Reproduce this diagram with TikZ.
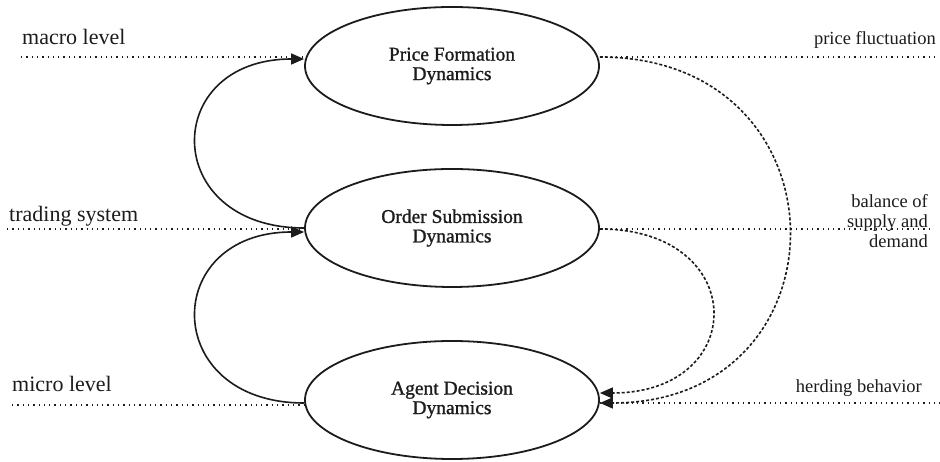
\documentclass[tikz,border=0pt]{standalone}
\usepackage{fontspec}
\setmainfont{Liberation Serif}
\newfontfamily\ellfont{Liberation Serif}[FakeBold=1.1]
\usetikzlibrary{arrows.meta,shapes.geometric}
\definecolor{ink}{HTML}{1C1C1C}
\begin{document}
\begin{tikzpicture}[x=1pt,y=1pt,
 dyn/.style={ellipse, draw=ink, line width=1.8pt, minimum width=294pt, minimum height=118pt, inner sep=0pt, align=center, font=\ellfont\fontsize{19.5}{19.5}\selectfont, text=ink},
 lvl/.style={draw=ink, line width=1.5pt, dash pattern=on 1.3pt off 4pt},
 feed/.style={draw=ink, line width=1.6pt, -{Triangle[length=13pt,width=11pt]}},
 fb/.style={feed, dash pattern=on 3pt off 2pt},
 lbl/.style={font=\fontsize{22}{24}\selectfont, text=ink, inner sep=0pt, anchor=base west},
 rlbl/.style={font=\fontsize{18.5}{20}\selectfont, text=ink, inner sep=0pt, align=right},
]
\useasboundingbox (0,0) rectangle (940,462);
\fill[white] (0,0) rectangle (940,462);

\node[dyn] (top) at (452,396) {Price Formation\\Dynamics};
\node[dyn] (mid) at (452,234) {Order Submission\\Dynamics};
\node[dyn] (bot) at (452,62) {Agent Decision\\Dynamics};

% level lines
\coordinate (mL) at (21,405);
\coordinate (mR) at (938,405);
\coordinate (tL) at (7,233);
\coordinate (tR) at (933,233);
\coordinate (uL) at (12,57);
\coordinate (uR) at (940,59);
\draw[lvl] (mL) -- (mL -| top.west);
\draw[lvl] (mR -| top.east) -- (mR);
\draw[lvl] (tL) -- (tL -| mid.west);
\draw[lvl] (tR -| mid.east) -- (tR);
\draw[lvl] (uL) -- (uL -| bot.west);
\draw[lvl] (uR -| bot.east) -- (uR);

% labels
\node[lbl] (lmacro) at (22,417) {macro level};
\node[lbl] (ltrade) at (9,240) {trading system};
\node[lbl] (lmicro) at (12,70) {micro level};
\node[rlbl, anchor=base east] (lprice) at (936,417) {price fluctuation};
\node[rlbl, anchor=east] (lbal) at (928,241) {balance of\\supply and\\demand};
\node[rlbl, anchor=base east] (lherd) at (922,69) {herding behavior};

% feedback loops
\draw[feed] ([yshift=0pt]mid.west) .. controls +(-144,0) and +(-144,0) .. ([yshift=7pt]top.west);
\draw[feed] ([yshift=-3pt]bot.west) .. controls +(-144,0) and +(-144,0) .. ([yshift=-4pt]mid.west);
\draw[fb] ([yshift=9pt]top.east) .. controls +(252,0) and +(252,0) .. ([yshift=-3pt]bot.east);
\draw[fb] ([yshift=-1pt]mid.east) .. controls +(150,0) and +(150,0) .. ([yshift=7pt]bot.east);
\end{tikzpicture}
\end{document}
